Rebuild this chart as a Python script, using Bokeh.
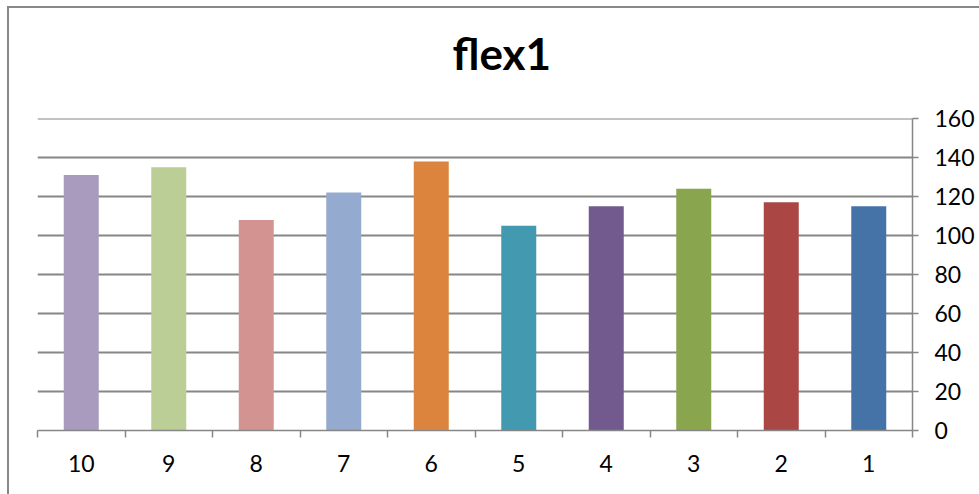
from bokeh.plotting import figure
from bokeh.layouts import column
from bokeh.models import Range1d, FixedTicker, Span, Title
from bokeh.embed import file_html
from bokeh.resources import INLINE

# Data
categories = ["1", "2", "3", "4", "5", "6", "7", "8", "9", "10"]
values = [115, 117, 124, 115, 105, 138, 122, 108, 135, 131]
colors = ["#4573A8", "#AA4744", "#89A54E", "#725A8E", "#4299B0",
          "#DC843E", "#95AACF", "#D39391", "#BACE96", "#A99BBD"]
y_ticks = [0, 20, 40, 60, 80, 100, 120, 140, 160]
chart_title = "flex1"

FONT = "Lato"
GREY = "#868686"

n = len(categories)
centers = [i + 0.5 for i in range(n)]          # slot centres
bounds = [float(i) for i in range(n + 1)]      # slot boundaries

p = figure(
    width=970, height=486,
    x_range=Range1d(n, 0),                     # categories in reverse order
    y_range=Range1d(0, y_ticks[-1]),
    output_backend="svg", toolbar_location=None,
    x_axis_location="below", y_axis_location="right",
    min_border_left=28, min_border_right=67,
    min_border_top=110, min_border_bottom=64,
    title=chart_title,
)
p.outline_line_color = None
p.background_fill_color = "white"
p.border_fill_color = "white"

p.vbar(x=centers, top=values, width=0.4, bottom=0,
       fill_color=colors, line_color=None)

# chart title
p.title.text_font = FONT
p.title.text_font_size = "44px"
p.title.text_font_style = "bold"
p.title.text_color = "black"
p.title.align = "left"
p.title.offset = 415
p.title.standoff = 0

# blank spacer between the plot area and the title
p.add_layout(Title(text=" ", text_font_size="1px", standoff=37), "above")

# value axis (right)
ya = p.yaxis[0]
ya.ticker = FixedTicker(ticks=y_ticks)
ya.axis_line_color = GREY
ya.axis_line_width = 1.5
ya.major_tick_line_color = GREY
ya.major_tick_line_width = 1.5
ya.major_tick_in = 0
ya.major_tick_out = 6
ya.minor_tick_line_color = None
ya.major_label_text_font = FONT
ya.major_label_text_font_size = "23px"
ya.major_label_text_color = "black"
ya.major_label_standoff = 16

# category axis (below): labels at slot centres, ticks at boundaries
xa = p.xaxis[0]
xa.ticker = FixedTicker(ticks=centers, minor_ticks=bounds)
xa.major_label_overrides = {c: lab for c, lab in zip(centers, categories)}
xa.axis_line_color = GREY
xa.axis_line_width = 1.5
xa.major_tick_line_color = None
xa.major_tick_in = 0
xa.major_tick_out = 0
xa.minor_tick_line_color = GREY
xa.minor_tick_line_width = 1.5
xa.minor_tick_in = 0
xa.minor_tick_out = 7
xa.major_label_text_font = FONT
xa.major_label_text_font_size = "23px"
xa.major_label_text_color = "black"
xa.major_label_standoff = 17

# horizontal gridlines, including the one at the top of the value range
p.xgrid.grid_line_color = None
p.ygrid.ticker = FixedTicker(ticks=y_ticks[1:])
p.ygrid.grid_line_color = GREY
p.ygrid.grid_line_width = 1.8
p.add_layout(Span(location=y_ticks[-1], dimension="width",
                  line_color=GREY, line_width=1.8))

layout = column(
    p,
    margin=(6, 0, 0, 7),
    styles={"border-top": "2px solid #888888", "border-left": "2px solid #888888"},
)

open("out.html", "w").write(file_html(layout, INLINE))
